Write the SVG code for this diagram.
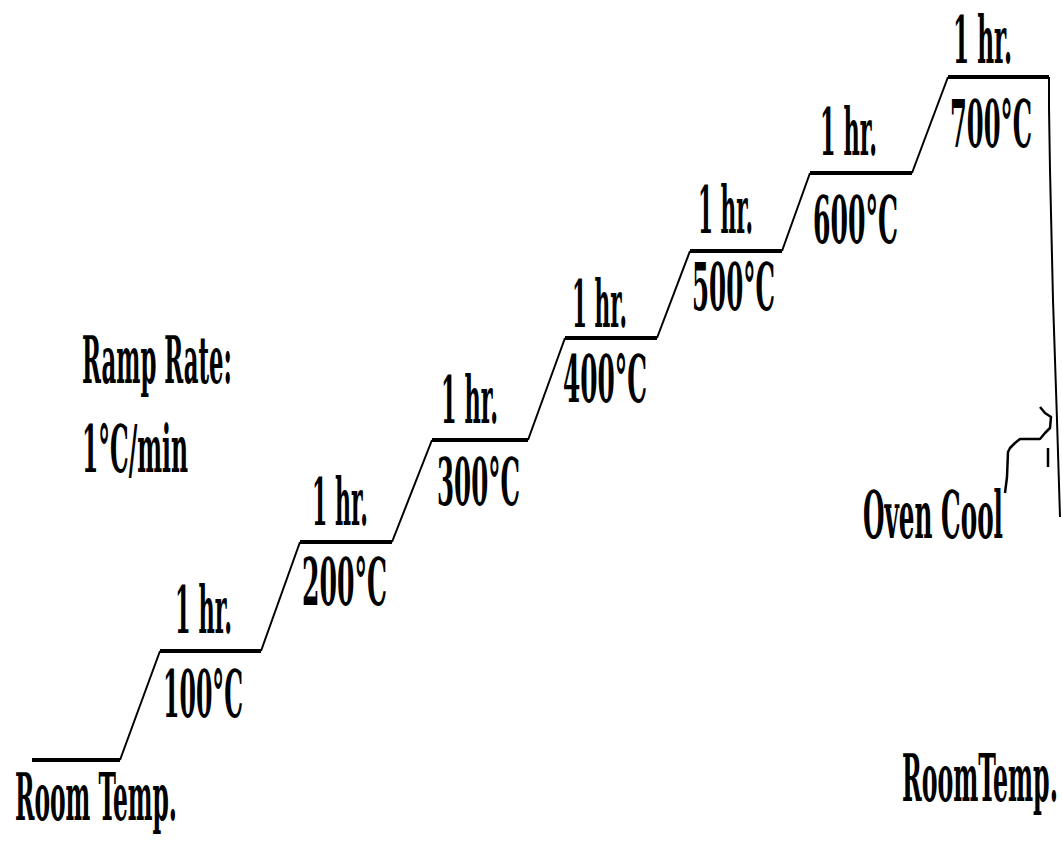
<svg xmlns="http://www.w3.org/2000/svg" width="1062" height="844" viewBox="0 0 1062 844">
<style>
.t{font-family:"DejaVu Serif Condensed","DejaVu Serif","Liberation Serif",serif;font-weight:bold;font-size:65px;fill:#000}
.plateau{stroke:#000;stroke-width:4;fill:none;stroke-linecap:butt}
.ramp{stroke:#000;stroke-width:2;fill:none}
.arrow{stroke:#000;stroke-width:2.5;fill:none;stroke-linejoin:round}
</style>
<rect width="1062" height="844" fill="#fff"/>
<g id="connectors">
<path class="ramp" d="M120,760 L160,651 M261,651 L300,542 M392,542 L432,440 M528,440 L565,338 M657,338 L690,251 M782,251 L810,173 M912,173 L948,77"/>
<path class="ramp" d="M1049,77 L1049,108 L1050,170 L1053,300 L1057,420 L1060,517"/>
<path class="arrow" d="M1005,493 L1007,477 L1008,452 L1010,448 L1015,443 L1020,439 L1040,439 L1045,433 L1050,428 L1051,417 L1045,413 L1040,407 M1048,448 L1048,467"/>
</g>
<g id="room-temp-start">
<path class="plateau" d="M32,760 L120,760"/>
<text class="t" transform="translate(15,820) scale(0.4,1)" textLength="405" lengthAdjust="spacingAndGlyphs">Room Temp.</text>
</g>
<g id="step-100">
<path class="plateau" d="M160,651 L261,651"/>
<text class="t" transform="translate(175,633) scale(0.4,1)" textLength="142.5" lengthAdjust="spacingAndGlyphs">1 hr.</text>
<text class="t" transform="translate(163,717) scale(0.4,1)" textLength="200" lengthAdjust="spacingAndGlyphs">100°C</text>
</g>
<g id="step-200">
<path class="plateau" d="M300,542 L392,542"/>
<text class="t" transform="translate(312,525) scale(0.4,1)" textLength="140" lengthAdjust="spacingAndGlyphs">1 hr.</text>
<text class="t" transform="translate(302,605) scale(0.4,1)" textLength="212.5" lengthAdjust="spacingAndGlyphs">200°C</text>
</g>
<g id="step-300">
<path class="plateau" d="M432,440 L528,440"/>
<text class="t" transform="translate(441,423) scale(0.4,1)" textLength="142.5" lengthAdjust="spacingAndGlyphs">1 hr.</text>
<text class="t" transform="translate(437,505) scale(0.4,1)" textLength="207.5" lengthAdjust="spacingAndGlyphs">300°C</text>
</g>
<g id="step-400">
<path class="plateau" d="M565,338 L657,338"/>
<text class="t" transform="translate(572,327) scale(0.4,1)" textLength="137.5" lengthAdjust="spacingAndGlyphs">1 hr.</text>
<text class="t" transform="translate(563,402) scale(0.4,1)" textLength="210" lengthAdjust="spacingAndGlyphs">400°C</text>
</g>
<g id="step-500">
<path class="plateau" d="M690,251 L782,251"/>
<text class="t" transform="translate(698,233) scale(0.4,1)" textLength="137.5" lengthAdjust="spacingAndGlyphs">1 hr.</text>
<text class="t" transform="translate(692,310) scale(0.4,1)" textLength="207.5" lengthAdjust="spacingAndGlyphs">500°C</text>
</g>
<g id="step-600">
<path class="plateau" d="M810,173 L912,173"/>
<text class="t" transform="translate(820,155) scale(0.4,1)" textLength="142.5" lengthAdjust="spacingAndGlyphs">1 hr.</text>
<text class="t" transform="translate(813,243) scale(0.4,1)" textLength="212.5" lengthAdjust="spacingAndGlyphs">600°C</text>
</g>
<g id="step-700">
<path class="plateau" d="M948,77 L1049,77"/>
<text class="t" transform="translate(953,63) scale(0.4,1)" textLength="147.5" lengthAdjust="spacingAndGlyphs">1 hr.</text>
<text class="t" transform="translate(950,147) scale(0.4,1)" textLength="205" lengthAdjust="spacingAndGlyphs">700°C</text>
</g>
<g id="ramp-rate">
<text class="t" transform="translate(82,383) scale(0.4,1)" textLength="375" lengthAdjust="spacingAndGlyphs">Ramp Rate:</text>
<text class="t" transform="translate(82,472) scale(0.4,1)" textLength="265" lengthAdjust="spacingAndGlyphs">1°C/min</text>
</g>
<g id="oven-cool">
<text class="t" transform="translate(863,538) scale(0.4,1)" textLength="350" lengthAdjust="spacingAndGlyphs">Oven Cool</text>
</g>
<g id="room-temp-end">
<text class="t" transform="translate(902,801) scale(0.36,1)" textLength="433" lengthAdjust="spacingAndGlyphs">RoomTemp.</text>
</g>
</svg>
